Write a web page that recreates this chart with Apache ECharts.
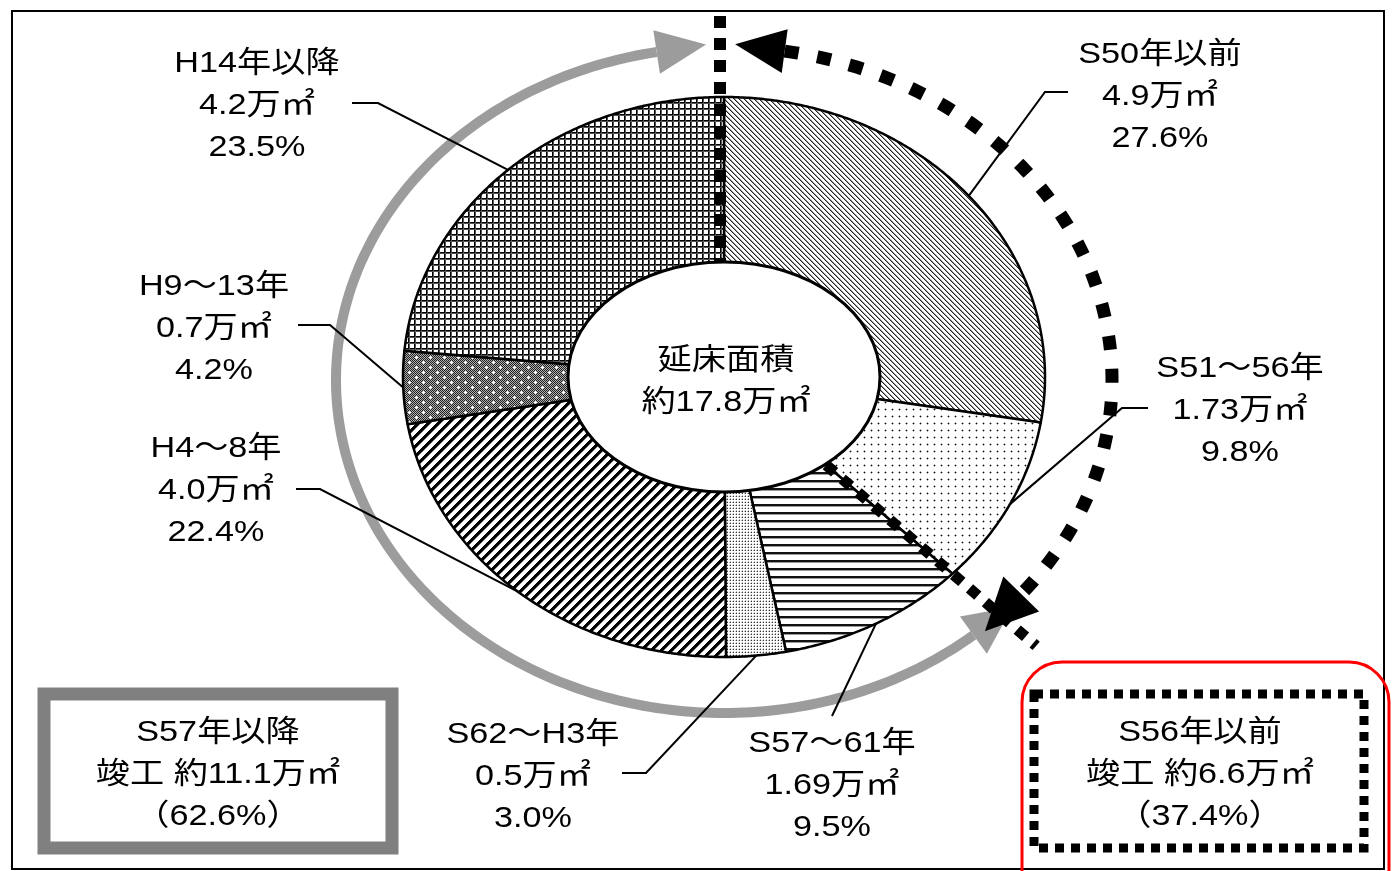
<!DOCTYPE html>
<html>
<head>
<meta charset="utf-8">
<script src="https://cdn.jsdelivr.net/npm/echarts@6/dist/echarts.min.js"></script>
<style>
  html, body { margin: 0; padding: 0; background: #ffffff; }
  #chart { width: 1392px; height: 871px; }
</style>
</head>
<body>
<div id="chart"></div>
<script>
// ---- data -------------------------------------------------------------
const periods = ['S50年以前', 'S51～56年', 'S57～61年', 'S62～H3年', 'H4～8年', 'H9～13年', 'H14年以降'];
const areas   = ['4.9', '1.73', '1.69', '0.5', '4.0', '0.7', '4.2'];   // 万㎡
const shares  = [27.6, 9.8, 9.5, 3.0, 22.4, 4.2, 23.5];                // %
const totalArea = '17.8';                                              // 万㎡
const summaryTitles = ['S57年以降', 'S56年以前'];
const summaryAreas  = ['11.1', '6.6'];
const summaryShares = ['62.6', '37.4'];
const oldGroupCount = 2;   // first two periods were completed in S56 or earlier

// ---- layout -----------------------------------------------------------
const CX = 724, CY = 377, RX = 321, RY = 280;          // pie ellipse
const HOLE = { rx: 156, ry: 115 };                      // centre label ellipse
const ARC = { cx: 724, cy: 380, rx: 388, ry: 333 };     // surrounding arrows
const FONT = "'Liberation Sans', 'Noto Sans CJK JP', sans-serif";
const FS = 30, LH = 42, WIDEN = 1.14;
// label centre (middle line) and the point where its leader line leaves it
const labelAt  = [[1160, 97], [1240, 411], [832, 786], [533, 777], [216, 491], [214, 329], [257, 106]];
const leaderAt = [[[1068, 92], [1045, 92]], [[1148, 408], [1122, 408]], [[832, 716]], [[622, 773], [646, 773]],
                  [[296, 489], [320, 489]], [[298, 325], [330, 325]], [[352, 103], [378, 103]]];

// ---- fill patterns ----------------------------------------------------
function tile(w, h, draw) {
  const c = document.createElement('canvas');
  c.width = w; c.height = h;
  const g = c.getContext('2d');
  g.fillStyle = '#ffffff';
  g.fillRect(0, 0, w, h);
  draw(g, w, h);
  return { image: c, repeat: 'repeat' };
}
function px(g, x, y, col) { g.fillStyle = col; g.fillRect(x, y, 1, 1); }
function diagonal(n, thick, up, col, edge) {
  return tile(n, n, (g) => {
    for (let y = 0; y < n; y++) {
      for (let k = 0; k < thick; k++) {
        const x = up ? (n - 1 - y + k + n) % n : (y + k) % n;
        px(g, x, y, col);
      }
      if (edge) {
        const xe = up ? (n - 1 - y + thick + n) % n : (y + thick) % n;
        px(g, xe, y, edge);
      }
    }
  });
}
const fills = [
  diagonal(5, 1, false, '#222', '#999'),
  tile(7, 7, (g) => {
    px(g, 3, 3, '#111');
    ['#aaa'].forEach(c => { px(g, 2, 3, c); px(g, 4, 3, c); px(g, 3, 2, c); px(g, 3, 4, c); });
  }),
  tile(8, 8, (g) => { g.fillStyle = '#111'; g.fillRect(0, 0, 8, 2); g.fillStyle = '#999'; g.fillRect(0, 2, 8, 1); }),
  tile(3, 3, (g) => { px(g, 1, 1, '#333'); px(g, 0, 1, '#bbb'); px(g, 1, 0, '#bbb'); }),
  diagonal(10, 4, true, '#000', '#777'),
  tile(14, 10, (g) => {
    for (let y = 0; y < 10; y++) for (let x = 0; x < 14; x++) px(g, x, y, (x + y) % 2 ? '#b0b0b0' : '#202020');
    [[3, 2], [10, 7]].forEach(([x, y]) => {
      [[0, 0], [1, 0], [-1, 0], [0, 1], [0, -1]].forEach(([dx, dy]) => px(g, x + dx, y + dy, '#ffffff'));
    });
  }),
  tile(6, 6, (g) => {
    g.fillStyle = '#000'; g.fillRect(0, 0, 6, 1); g.fillRect(0, 0, 1, 6);
    g.fillStyle = '#555'; g.fillRect(0, 1, 6, 1); g.fillRect(1, 0, 1, 6);
  })
];

// ---- helpers ----------------------------------------------------------
const total = shares.reduce((a, b) => a + b, 0);
const spans = [];
shares.reduce((acc, v) => { spans.push([acc, acc + v]); return acc + v; }, 0);

// angle measured clockwise from 12 o'clock
function onEllipse(cx, cy, rx, ry, deg) {
  const a = deg * Math.PI / 180;
  return [cx + rx * Math.sin(a), cy - ry * Math.cos(a)];
}
function toDeg(v) { return v / total * 360; }
function arcPoints(e, d0, d1, step) {
  const n = Math.max(2, Math.ceil(Math.abs(d1 - d0) / step));
  const pts = [];
  for (let i = 0; i <= n; i++) pts.push(onEllipse(e.cx, e.cy, e.rx, e.ry, d0 + (d1 - d0) * i / n));
  return pts;
}
const pie = { cx: CX, cy: CY, rx: RX, ry: RY };

function arrowHead(e, deg, dir, len, half, color, z) {
  // base centred on the ellipse at `deg`, pointing along the tangent (dir = +1 clockwise, -1 counter)
  const a = deg * Math.PI / 180;
  const base = onEllipse(e.cx, e.cy, e.rx, e.ry, deg);
  let tx = e.rx * Math.cos(a) * dir, ty = e.ry * Math.sin(a) * dir;
  const l = Math.hypot(tx, ty); tx /= l; ty /= l;
  const nx = -ty, ny = tx;
  return {
    type: 'polygon', z: z, silent: true,
    shape: { points: [
      [base[0] + nx * half, base[1] + ny * half],
      [base[0] + tx * len, base[1] + ty * len],
      [base[0] - nx * half, base[1] - ny * half]
    ] },
    style: { fill: color }
  };
}

const textStyle = (text, x, y) => ({
  type: 'text', x: x, y: y, z: 20, silent: true, scaleX: WIDEN,
  style: { text: text, fill: '#000', font: FS + 'px ' + FONT, align: 'center', verticalAlign: 'middle', lineHeight: LH }
});

// boundary angles used by the dotted dividers
const startDeg = toDeg(spans[0][0]);
const splitDeg = toDeg(spans[oldGroupCount - 1][1]);
const splitDir = (() => {
  const p = onEllipse(0, 0, RX, RY, splitDeg); const l = Math.hypot(p[0], p[1]); return [p[0] / l, p[1] / l];
})();

const chart = echarts.init(document.getElementById('chart'), null, { renderer: 'canvas' });

chart.setOption({
  animation: false,
  backgroundColor: '#ffffff',
  series: [
    {
      // the slices
      type: 'custom',
      coordinateSystem: 'none',
      z: 2,
      data: spans.map((s, i) => [s[0], s[1], i]),
      renderItem: (params, api) => {
        const d0 = toDeg(api.value(0)), d1 = toDeg(api.value(1));
        const pts = [[CX, CY]].concat(arcPoints(pie, d0, d1, 0.5));
        return {
          type: 'polygon',
          shape: { points: pts },
          style: { fill: fills[params.dataIndex], stroke: '#000', lineWidth: 2.5, lineJoin: 'round' }
        };
      }
    },
    {
      // labels with leader lines
      type: 'custom',
      coordinateSystem: 'none',
      z: 10,
      data: spans.map((s, i) => [s[0], s[1], i]),
      renderItem: (params, api) => {
        const i = params.dataIndex;
        const mid = toDeg((api.value(0) + api.value(1)) / 2);
        const edge = onEllipse(CX, CY, RX, RY, mid);
        const pts = leaderAt[i].concat([edge]);
        const txt = periods[i] + '\n' + areas[i] + '万㎡\n' + shares[i].toFixed(1) + '%';
        return {
          type: 'group',
          children: [
            { type: 'polyline', shape: { points: pts }, style: { stroke: '#000', lineWidth: 2, fill: null } },
            textStyle(txt, labelAt[i][0], labelAt[i][1])
          ]
        };
      }
    }
  ],
  graphic: [
    // outer frame
    { type: 'rect', z: 1, silent: true, shape: { x: 12, y: 11, width: 1372, height: 858 },
      style: { fill: null, stroke: '#000', lineWidth: 2 } },

    // grey arrow: completed S57 or later (anticlockwise round the left side)
    { type: 'polyline', z: 5, silent: true, shape: { points: arcPoints(ARC, -10, -220, 1) },
      style: { stroke: '#9c9c9c', lineWidth: 10, fill: null } },
    arrowHead(ARC, -10, 1, 50, 22, '#9c9c9c', 5),
    arrowHead(ARC, -220, -1, 48, 23, '#9c9c9c', 5),

    // black dotted arrow: completed S56 or earlier (clockwise round the right side)
    { type: 'polyline', z: 5, silent: true, shape: { points: arcPoints(ARC, 9, 130, 1) },
      style: { stroke: '#000', lineWidth: 13, lineDash: [14, 19], fill: null } },
    arrowHead(ARC, 9, -1, 50, 22, '#000', 5),
    arrowHead(ARC, 130, 1, 52, 25, '#000', 5),

    // dotted dividers along the S56 / S57 boundary
    (() => {
      const top = onEllipse(CX, CY, HOLE.rx, HOLE.ry, startDeg);
      return { type: 'line', z: 8, silent: true,
        shape: { x1: top[0] - 4, y1: 16, x2: top[0] - 4, y2: top[1] },
        style: { stroke: '#000', lineWidth: 12, lineDash: [12, 10] } };
    })(),
    { type: 'line', z: 8, silent: true,
      shape: { x1: CX + splitDir[0] * 135, y1: CY + splitDir[1] * 135, x2: CX + splitDir[0] * 412, y2: CY + splitDir[1] * 412 },
      style: { stroke: '#000', lineWidth: 11, lineDash: [11, 10] } },

    // centre label
    { type: 'ellipse', z: 9, silent: true, shape: { cx: CX, cy: CY, rx: HOLE.rx, ry: HOLE.ry },
      style: { fill: '#fff', stroke: '#000', lineWidth: 3 } },
    textStyle('延床面積\n約' + totalArea + '万㎡', 726, 382),

    // summary: S57 or later
    { type: 'rect', z: 6, silent: true, shape: { x: 44, y: 694, width: 348, height: 154 },
      style: { fill: '#fff', stroke: '#808080', lineWidth: 13 } },
    textStyle(summaryTitles[0] + '\n竣工 約' + summaryAreas[0] + '万㎡\n（' + summaryShares[0] + '%）', 218, 775),

    // summary: S56 or earlier
    { type: 'rect', z: 6, silent: true, shape: { x: 1022, y: 662, width: 367, height: 280, r: 40 },
      style: { fill: null, stroke: '#ff0000', lineWidth: 3 } },
    { type: 'rect', z: 6, silent: true, shape: { x: 1034, y: 694, width: 330, height: 154 },
      style: { fill: '#fff', stroke: '#000', lineWidth: 9, lineDash: [9, 7] } },
    textStyle(summaryTitles[1] + '\n竣工 約' + summaryAreas[1] + '万㎡\n（' + summaryShares[1] + '%）', 1200, 775)
  ]
});
</script>
</body>
</html>
